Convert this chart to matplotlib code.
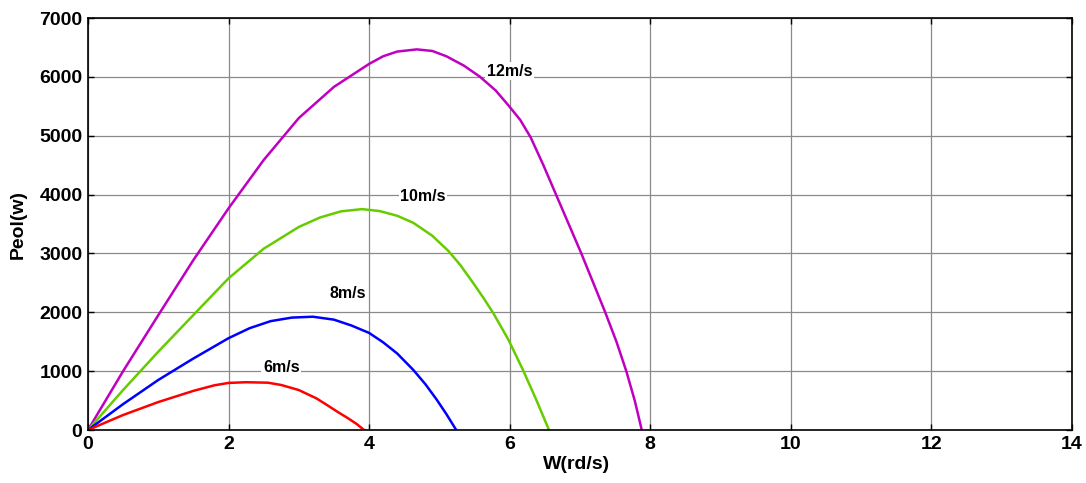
import matplotlib
matplotlib.use('Agg')
import matplotlib.pyplot as plt

plt.rcParams['font.family'] = ['Liberation Sans', 'DejaVu Sans']
plt.rcParams['font.weight'] = 'bold'

# values
w12 = [0, 0.5, 1, 1.5, 2, 2.5, 3, 3.5, 4, 4.2, 4.4, 4.68, 4.9, 5.1, 5.35, 5.58, 5.8, 5.98,
       6.15, 6.3, 6.48, 6.66, 6.84, 7.02, 7.19, 7.36, 7.52, 7.66, 7.78, 7.88]
p12 = [0, 1000, 1950, 2888, 3766, 4587, 5300, 5830, 6220, 6350, 6430, 6467, 6440, 6350, 6190, 6000, 5770, 5520,
       5270, 4970, 4500, 4000, 3500, 3000, 2500, 2000, 1500, 1000, 500, 0]

w10 = [0, 0.5, 1, 1.5, 2, 2.5, 3, 3.3, 3.6, 3.9, 4.15, 4.4, 4.63, 4.9, 5.13, 5.3, 5.48,
       5.63, 5.77, 5.98, 6.19, 6.38, 6.56]
p10 = [0, 680, 1330, 1954, 2577, 3080, 3450, 3610, 3715, 3753, 3720, 3640, 3520, 3300, 3040, 2800, 2500,
       2240, 1980, 1540, 1020, 510, 0]

w8 = [0, 0.5, 1, 1.5, 2, 2.3, 2.6, 2.9, 3.2, 3.5, 3.75, 4, 4.2, 4.4, 4.63, 4.8, 4.96, 5.1, 5.24]
p8 = [0, 440, 850, 1215, 1560, 1730, 1850, 1910, 1925, 1875, 1775, 1650, 1490, 1300, 1020, 780, 520, 270, 0]

w6 = [0, 0.5, 1, 1.5, 1.8, 2, 2.25, 2.56, 2.75, 3, 3.25, 3.41, 3.55, 3.7, 3.82, 3.93]
p6 = [0, 255, 475, 665, 760, 800, 812, 804, 765, 679, 538, 418, 310, 200, 105, 0]

labels = ['12m/s', '10m/s', '8m/s', '6m/s']
label_x = [6.0, 4.77, 3.7, 2.75]
label_y = [6099, 3975, 2311, 1070]

fig = plt.figure(figsize=(10.86, 4.83), dpi=100)
ax = fig.add_axes([0.081, 0.1097, 0.906, 0.853])

ax.plot(w12, p12, color='#c000c0', lw=1.8)
ax.plot(w10, p10, color='#66cc00', lw=1.8)
ax.plot(w8, p8, color='#0000ff', lw=1.8)
ax.plot(w6, p6, color='#ff0000', lw=1.8)

for t, x, y in zip(labels, label_x, label_y):
    ax.text(x, y, t, fontsize=11.5, fontweight='bold', ha='center', va='center',
            bbox=dict(facecolor='white', edgecolor='none', pad=1))

ax.set_xlim(0, 14)
ax.set_ylim(0, 7000)
ax.set_xticks(range(0, 15, 2))
ax.set_yticks(range(0, 7001, 1000))
ax.grid(True, color='#8a8a8a', lw=0.9)
ax.set_axisbelow(True)
ax.tick_params(direction='in', top=True, right=True, labelsize=14, length=4, width=1, pad=4)
for lab in ax.get_xticklabels() + ax.get_yticklabels():
    lab.set_fontweight('bold')
for s in ax.spines.values():
    s.set_linewidth(1.2)

ax.set_xlabel('W(rd/s)', fontsize=14, fontweight='bold')
ax.set_ylabel('Peol(w)', fontsize=14, fontweight='bold')
ax.xaxis.set_label_coords(0.497, -0.063)
ax.yaxis.set_label_coords(-0.062, 0.5)

fig.savefig('out.png', dpi=100)
